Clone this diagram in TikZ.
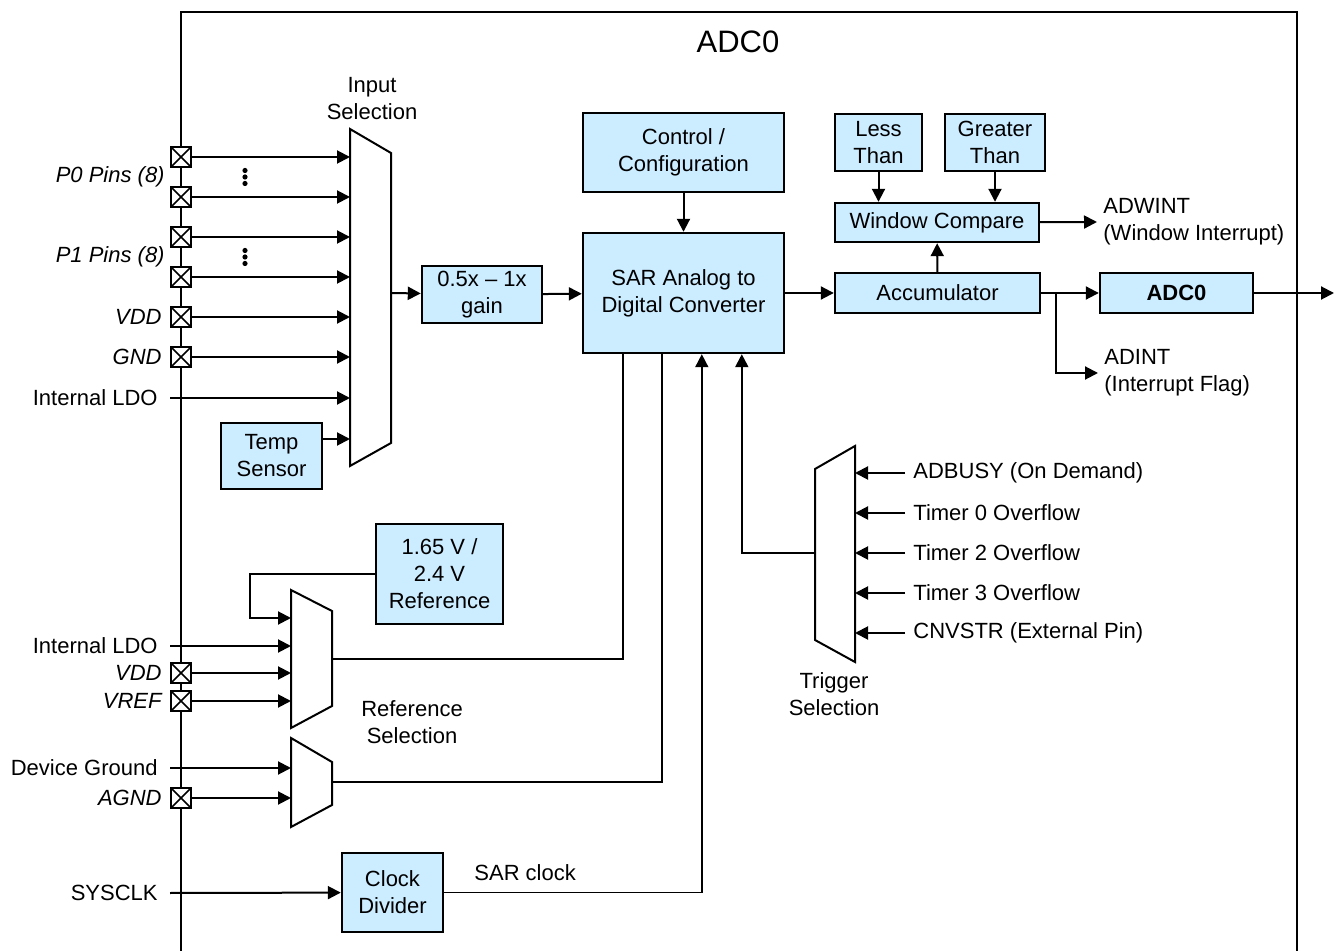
\documentclass[tikz,border=0pt]{standalone}
\usepackage{fontspec}
\setmainfont{Liberation Sans}
\usetikzlibrary{arrows.meta,positioning}

\definecolor{adcblue}{RGB}{204,236,255}

\tikzset{
  blk/.style={draw, line width=1.2pt, fill=adcblue, align=center, inner sep=0pt},
  pin/.style={draw, line width=1pt, fill=white, minimum size=10pt, inner sep=0pt,
    path picture={\draw[line width=0.8pt]
      (path picture bounding box.south west) -- (path picture bounding box.north east)
      (path picture bounding box.north west) -- (path picture bounding box.south east);}},
  sig/.style={line width=1pt, -{Triangle[length=6.5pt,width=6.5pt]}},
  wire/.style={line width=0.8pt},
  mux/.style={line width=1pt, fill=white},
  lbl/.style={align=center, inner sep=0pt},
  pinlbl/.style={inner sep=0pt, font=\fontsize{11}{13.5}\selectfont\itshape},
}

\begin{document}
\begin{tikzpicture}[x=0.5pt, y=-0.5pt, font=\fontsize{11}{13.5}\selectfont]
\useasboundingbox (0,0) rectangle (1339,951);

% outer block
\draw[line width=1pt] (181,960) -- (181,12) -- (1297,12) -- (1297,960);
\node[lbl, font=\fontsize{15.5}{18}\selectfont] (title) at (738,42) {ADC0};

% input pins
\node[pin] (p0a) at (181,157) {};
\node[pin] (p0b) at (181,197) {};
\node[pin] (p1a) at (181,237) {};
\node[pin] (p1b) at (181,277) {};
\node[pin] (vdda) at (181,317) {};
\node[pin] (gnda) at (181,357) {};
\node[pinlbl, anchor=east] (p0lbl) at (165,177) {P0 Pins (8)};
\node[pinlbl, anchor=east] (p1lbl) at (165,257) {P1 Pins (8)};
\node[pinlbl, left=4pt of vdda] (vddalbl) {VDD};
\node[pinlbl, left=4pt of gnda] (gndalbl) {GND};
\node[lbl, anchor=east] (ldoa) at (158,398) {Internal LDO};
\node[blk, minimum width=50.5pt, minimum height=33pt] (temp) at (271.5,456) {Temp\\Sensor};

% input selection mux
\draw[mux] (350,129) -- (391,153) -- (391,443) -- (350,466) -- cycle;
\coordinate (inselL) at (350,0);
\coordinate (inselR) at (391,293);
\node[lbl] (insel) at (372,99) {Input\\Selection};
\foreach \p in {p0a,p0b,p1a,p1b,vdda,gnda}
  \draw[sig] (\p) -- (\p -| inselL);
\draw[sig] ([xshift=6pt]ldoa.east) -- (ldoa -| inselL);
\draw[sig] ([yshift=8.5pt]temp.east) -- ([yshift=8.5pt]temp.east -| inselL);
\foreach \y in {177,257}
  \foreach \d in {-6.5,0,6.5}
    \fill (245,\y+\d) circle (1.3pt);

% conversion path
\node[blk, minimum width=60pt, minimum height=28.5pt] (gain) at (482,294.5) {0.5x -- 1x\\gain};
\node[blk, minimum width=100.5pt, minimum height=60pt] (sar) at (683.5,293) {SAR Analog to\\Digital Converter};
\node[blk, minimum width=100.5pt, minimum height=39.5pt] (ctrl) at (683.5,152.5) {Control /\\Configuration};
\node[blk, minimum width=43.5pt, minimum height=28.5pt] (less) at (878.5,142.5) {Less\\Than};
\node[blk, minimum width=50pt, minimum height=28.5pt] (greater) at (995,142.5) {Greater\\Than};
\node[blk, minimum width=102pt, minimum height=19.5pt] (wincmp) at (937,222.5) {Window Compare};
\node[blk, minimum width=102.5pt, minimum height=20pt] (accum) at (937.5,293) {Accumulator};
\node[blk, minimum width=76.5pt, minimum height=20pt, font=\fontsize{11}{13.5}\selectfont\bfseries] (adcreg) at (1176.5,293) {ADC0};
\node[lbl, align=left, anchor=west] (adwint) at (1103,222) {ADWINT\\(Window Interrupt)};
\node[lbl, align=left, anchor=west] (adint) at (1104,373) {ADINT\\(Interrupt Flag)};
\coordinate (adcout) at (1334,293);

\draw[sig] (inselR) -- (gain);
\draw[sig] (gain) -- (sar);
\draw[sig] (ctrl) -- (sar);
\draw[sig] (sar) -- (accum);
\draw[sig] (accum) -- (wincmp);
\draw[sig] (less) -- (less |- wincmp.north);
\draw[sig] (greater) -- (greater |- wincmp.north);
\draw[sig] (wincmp) -- ([xshift=-3pt]adwint.west);
\draw[sig] (accum) -- (adcreg);
\draw[sig] ([xshift=7.5pt]accum.east) |- ([xshift=-3pt]adint.west);
\draw[sig] (adcreg) -- (adcout);

% trigger selection
\draw[mux] (815,469) -- (855,446) -- (855,662) -- (815,640) -- cycle;
\coordinate (trigR) at (855,0);
\coordinate (trigL) at (815,553);
\node[lbl] (trigsel) at (834,694) {Trigger\\Selection};
\node[lbl, anchor=west] (tadbusy) at (913,473) {ADBUSY (On Demand)};
\node[lbl, anchor=west] (ttmr0) at (913,513) {Timer 0 Overflow};
\node[lbl, anchor=west] (ttmr2) at (913,553) {Timer 2 Overflow};
\node[lbl, anchor=west] (ttmr3) at (913,593) {Timer 3 Overflow};
\node[lbl, anchor=west] (tcnv) at (913,633) {CNVSTR (External Pin)};
\foreach \t in {tadbusy,ttmr0,ttmr2,ttmr3,tcnv}
  \draw[sig] ([xshift=-4pt]\t.west) -- (\t -| trigR);
\draw[sig] (trigL) -| ([xshift=80pt]sar.south west);

% reference selection
\node[blk, minimum width=63.5pt, minimum height=50pt] (vref) at (439.5,574) {1.65 V /\\2.4 V\\Reference};
\draw[mux] (291,590) -- (332,611) -- (332,706) -- (291,728) -- cycle;
\draw[mux] (291,738) -- (332,762) -- (332,805) -- (291,827) -- cycle;
\coordinate (refselA) at (332,659);
\coordinate (refselB) at (332,782);
\coordinate (refL) at (291,0);
\node[lbl] (refsel) at (412,722) {Reference\\Selection};
\node[lbl, anchor=east] (ldob) at (158,646) {Internal LDO};
\node[pin] (vddb) at (181,673) {};
\node[pin] (vrefp) at (181,701) {};
\node[pinlbl, left=4pt of vddb] (vddblbl) {VDD};
\node[pinlbl, left=4pt of vrefp] (vreflbl) {VREF};
\node[lbl, anchor=east] (dgnd) at (158,768) {Device Ground};
\node[pin] (agnd) at (181,798) {};
\node[pinlbl, left=4pt of agnd] (agndlbl) {AGND};

\draw[sig] (vref.west) -- ++(-62.5pt,0) |- (291,618);
\draw[sig] ([xshift=6pt]ldob.east) -- (ldob -| refL);
\draw[sig] (vddb) -- (vddb -| refL);
\draw[sig] (vrefp) -- (vrefp -| refL);
\draw[sig] ([xshift=6pt]dgnd.east) -- (dgnd -| refL);
\draw[sig] (agnd) -- (agnd -| refL);
\draw[wire] (refselA) -| ([xshift=20.5pt]sar.south west);
\draw[wire] (refselB) -| ([xshift=40pt]sar.south west);

% clock
\node[lbl, anchor=east] (sysclk) at (158,893) {SYSCLK};
\node[blk, minimum width=50.5pt, minimum height=39.5pt] (clkdiv) at (392.5,892.5) {Clock\\Divider};
\node[lbl, anchor=west] (sarclk) at (474,873) {SAR clock};
\draw[sig] ([xshift=6pt]sysclk.east) -- (clkdiv);
\draw[sig, line width=0.8pt] (clkdiv.east) -| ([xshift=60pt]sar.south west);
\end{tikzpicture}
\end{document}
